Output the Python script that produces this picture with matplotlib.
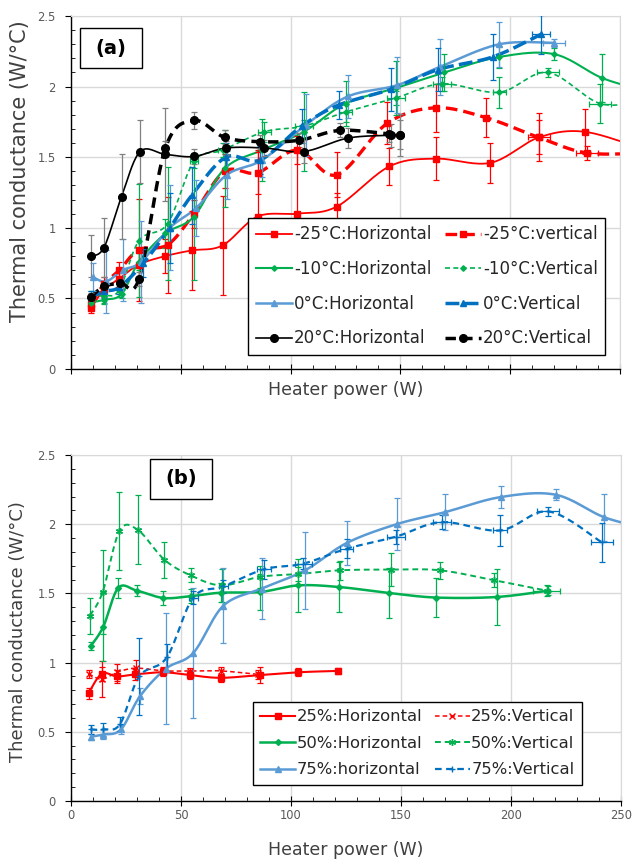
import numpy as np
import matplotlib
matplotlib.use("Agg")
import matplotlib.pyplot as plt
from matplotlib.lines import Line2D
from matplotlib.patches import Rectangle
from matplotlib.ticker import MultipleLocator, FuncFormatter

# ---- panel (a): temperature series ----
a_m25h_x = [9, 15, 22, 31, 43, 55, 69, 85, 103, 121, 145, 166, 191, 213, 234, 262]
a_m25h_y = [0.43, 0.56, 0.64, 0.74, 0.80, 0.84, 0.875, 1.08, 1.10, 1.15, 1.435, 1.49, 1.46, 1.64, 1.68, 1.55]
a_m25h_e = [0.03, 0.05, 0.06, 0.10, 0.12, 0.28, 0.35, 0.47, 0.45, 0.10, 0.13, 0.15, 0.14, 0.17, 0.16, 0.0]

a_m25v_x = [9, 15, 22, 31, 44, 56, 70, 85, 103, 121, 144, 166, 189, 213, 235, 262]
a_m25v_y = [0.46, 0.60, 0.70, 0.845, 0.88, 1.10, 1.40, 1.39, 1.55, 1.375, 1.74, 1.85, 1.78, 1.64, 1.53, 1.53]
a_m25v_e = [0.04, 0.05, 0.06, 0.36, 0.34, 0.10, 0.12, 0.15, 0.10, 0.16, 0.15, 0.17, 0.14, 0.12, 0.05, 0.0]
a_m25v_xe = [0, 0, 0, 0, 0, 0, 0, 0, 0, 0, 0, 0, 0, 5, 5, 0]

a_m10h_x = [9, 15, 23, 31, 43, 56, 70, 87, 106, 125, 148, 170, 195, 220, 242, 262]
a_m10h_y = [0.47, 0.49, 0.53, 0.76, 0.96, 1.08, 1.42, 1.55, 1.68, 1.88, 1.99, 2.10, 2.21, 2.23, 2.06, 1.97]
a_m10h_e = [0.03, 0.03, 0.03, 0.06, 0.10, 0.45, 0.27, 0.22, 0.28, 0.16, 0.19, 0.13, 0.08, 0.04, 0.17, 0.0]

a_m10v_x = [9, 15, 22, 31, 44, 56, 69, 88, 106, 125, 148, 169, 195, 217, 241, 262]
a_m10v_y = [0.52, 0.52, 0.56, 0.91, 1.03, 1.47, 1.55, 1.68, 1.72, 1.82, 1.92, 2.02, 1.96, 2.10, 1.88, 1.90]
a_m10v_e = [0.03, 0.05, 0.05, 0.40, 0.40, 0.05, 0.05, 0.07, 0.04, 0.07, 0.05, 0.05, 0.11, 0.03, 0.14, 0.0]
a_m10v_xe = [0, 0, 0, 0, 0, 2, 2, 3, 4, 3, 4, 4, 3, 5, 5, 0]

a_0h_x = [10, 16, 23.5, 32, 45, 57, 71, 87, 107, 126, 148.5, 168, 195, 220]
a_0h_y = [0.65, 0.62, 0.70, 0.76, 1.00, 1.14, 1.376, 1.48, 1.73, 1.93, 2.01, 2.14, 2.30, 2.31]
a_0h_e = [0.10, 0.22, 0.22, 0.29, 0.30, 0.20, 0.17, 0.12, 0.22, 0.15, 0.20, 0.20, 0.16, 0.03]
a_0h_xe = [0, 0, 0, 0, 0, 0, 0, 0, 0, 0, 0, 0, 0, 5]

a_0v_x = [9, 15, 22, 33, 45, 55, 70.5, 86, 105, 122, 145.5, 167, 192, 214]
a_0v_y = [0.51, 0.55, 0.58, 0.75, 1.00, 1.23, 1.50, 1.48, 1.72, 1.87, 1.98, 2.12, 2.21, 2.37]
a_0v_e = [0.04, 0.05, 0.05, 0.10, 0.25, 0.20, 0.10, 0.10, 0.12, 0.10, 0.15, 0.15, 0.16, 0.14]
a_0v_xe = [0, 0, 0, 0, 0, 0, 0, 0, 0, 0, 0, 0, 0, 4]

a_20h_x = [9, 15, 23, 31.5, 43, 56, 70.5, 88, 106, 126, 145.5, 150]
a_20h_y = [0.80, 0.86, 1.22, 1.54, 1.52, 1.505, 1.565, 1.565, 1.54, 1.635, 1.655, 1.655]
a_20h_e = [0.15, 0.21, 0.30, 0.22, 0.33, 0.05, 0.05, 0.06, 0.08, 0.07, 0.08, 0.15]

a_20v_x = [9, 15, 22.5, 31, 43, 56, 70, 86, 104, 122.5, 145, 150]
a_20v_y = [0.51, 0.585, 0.61, 0.64, 1.565, 1.76, 1.64, 1.61, 1.62, 1.69, 1.665, 1.66]
a_20v_e = [0.03, 0.04, 0.04, 0.05, 0.05, 0.06, 0.05, 0.05, 0.05, 0.05, 0.06, 0.10]

# ---- panel (b): fill ratio series ----
b_25h_x = [8, 14, 21, 29, 42, 54, 68, 86, 103, 121.5]
b_25h_y = [0.78, 0.92, 0.90, 0.915, 0.93, 0.91, 0.89, 0.91, 0.93, 0.94]
b_25h_e = [0.04, 0.05, 0.05, 0.04, 0.03, 0.03, 0.03, 0.06, 0.03, 0.02]

b_25v_x = [8, 14, 21, 29.5, 42, 54, 68, 85]
b_25v_y = [0.92, 0.88, 0.93, 0.96, 0.94, 0.94, 0.94, 0.915]
b_25v_e = [0.03, 0.13, 0.06, 0.06, 0.03, 0.02, 0.03, 0.03]

b_50h_x = [9, 14.7, 21.5, 30, 42, 54.4, 68, 86, 103.3, 122, 144.7, 166, 193.5, 217]
b_50h_y = [1.12, 1.26, 1.54, 1.52, 1.467, 1.48, 1.505, 1.51, 1.558, 1.546, 1.503, 1.47, 1.474, 1.52]
b_50h_e = [0.03, 0.25, 0.07, 0.04, 0.05, 0.05, 0.07, 0.13, 0.19, 0.18, 0.18, 0.14, 0.20, 0.03]

b_50v_x = [8.6, 14.4, 22, 30.3, 42.4, 54.4, 68.5, 86, 103.3, 122.3, 145.3, 167.7, 192.3, 216.2]
b_50v_y = [1.34, 1.51, 1.95, 1.96, 1.744, 1.63, 1.558, 1.62, 1.64, 1.667, 1.672, 1.667, 1.595, 1.52]
b_50v_e = [0.13, 0.30, 0.28, 0.25, 0.13, 0.05, 0.12, 0.08, 0.05, 0.07, 0.12, 0.06, 0.05, 0.04]
b_50v_xe = [0, 0, 0, 0, 0, 0, 0, 0, 0, 0, 0, 0, 0, 6]

b_75h_x = [9.1, 14.7, 22.7, 31.4, 43.2, 55.6, 69.2, 86.7, 106.4, 125.3, 148, 170, 195.3, 220.3, 242.4, 262]
b_75h_y = [0.464, 0.48, 0.517, 0.758, 0.957, 1.07, 1.41, 1.535, 1.667, 1.864, 2.0, 2.087, 2.196, 2.213, 2.05, 1.97]
b_75h_e = [0.02, 0.03, 0.03, 0.06, 0.40, 0.47, 0.27, 0.22, 0.28, 0.16, 0.19, 0.13, 0.08, 0.04, 0.17, 0.0]

b_75v_x = [8.9, 14.7, 22.3, 31, 43.5, 55.6, 69.2, 87.7, 105.6, 125.3, 147.7, 168.5, 195, 217, 241.2]
b_75v_y = [0.517, 0.517, 0.556, 0.90, 1.037, 1.47, 1.55, 1.674, 1.715, 1.823, 1.91, 2.015, 1.955, 2.092, 1.87]
b_75v_e = [0.03, 0.05, 0.05, 0.28, 0.10, 0.05, 0.05, 0.07, 0.04, 0.07, 0.05, 0.05, 0.11, 0.03, 0.14]
b_75v_xe = [0, 0, 0, 0, 0, 2, 2, 3, 4, 3, 4, 4, 3, 5, 5]

RED = "#FF0000"
GREEN = "#00B050"
LBLUE = "#5B9BD5"
BLUE = "#0070C0"
BLACK = "#000000"
GREY = "#808080"


def smooth(x, y, n=20):
    # Excel-style smoothed line (cubic bezier through the points)
    P = np.column_stack([np.asarray(x, float), np.asarray(y, float)])
    Pp = np.vstack([P[0], P, P[-1]])
    t = np.linspace(0, 1, n)[1:, None]
    out = [P[0]]
    for i in range(1, len(Pp) - 2):
        p0, p1, p2, p3 = Pp[i - 1], Pp[i], Pp[i + 1], Pp[i + 2]
        c1 = p1 + (p2 - p0) / 6
        c2 = p2 - (p3 - p1) / 6
        seg = (1 - t) ** 3 * p1 + 3 * (1 - t) ** 2 * t * c1 + 3 * (1 - t) * t ** 2 * c2 + t ** 3 * p2
        out.extend(seg)
    out = np.array(out)
    return out[:, 0], out[:, 1]


def draw(ax, x, y, e, color, lw, marker, ms, dashes=None, xe=None, ecolor=None, label=""):
    sx, sy = smooth(x, y)
    line, = ax.plot(sx, sy, color=color, lw=lw, solid_capstyle="butt")
    if dashes:
        line.set_dashes(dashes)
    ax.errorbar(x, y, yerr=e, xerr=xe, ls="none", marker=marker, ms=ms, color=color,
                mec=color, mfc=color, ecolor=ecolor or color,
                elinewidth=0.9, capsize=2.5, capthick=0.9, zorder=3)
    h = Line2D([], [], color=color, lw=lw, marker=marker, ms=ms, mec=color, mfc=color, label=label)
    if dashes:
        h.set_dashes(dashes)
    return h


def style(ax, ylabel_size, xticklabels=True):
    ax.set_xlim(0, 250)
    ax.set_ylim(0, 2.5)
    ax.xaxis.set_major_locator(MultipleLocator(50))
    ax.xaxis.set_minor_locator(MultipleLocator(10))
    ax.yaxis.set_major_locator(MultipleLocator(0.5))
    ax.yaxis.set_minor_locator(MultipleLocator(0.1))
    ax.yaxis.set_major_formatter(FuncFormatter(lambda v, p: "%g" % v))
    ax.grid(True, which="major", color="#D9D9D9", lw=1)
    ax.set_axisbelow(True)
    for s in ["top", "right"]:
        ax.spines[s].set_color("#D9D9D9")
    for s in ["left", "bottom"]:
        ax.spines[s].set_color(BLACK)
        ax.spines[s].set_linewidth(1)
    ax.tick_params(axis="y", which="major", direction="out", length=4, pad=7,
                   labelsize=8.3, labelcolor="#595959")
    ax.tick_params(axis="x", which="major", direction="inout", length=7, pad=2,
                   labelsize=8.3, labelcolor="#595959", labelbottom=xticklabels)
    ax.tick_params(which="minor", direction="in", length=3)
    ax.set_ylabel("Thermal conductance (W/°C)", fontsize=ylabel_size, color="#404040")
    ax.set_xlabel("Heater power (W)", fontsize=12.5, color="#404040")


fig = plt.figure(figsize=(6.34, 8.61), dpi=100)
ax1 = fig.add_axes([71 / 634, 492 / 861, 549 / 634, 353 / 861])
ax2 = fig.add_axes([71 / 634, 60 / 861, 550 / 634, 346 / 861])

# panel (a)
h = {}
h["m25h"] = draw(ax1, a_m25h_x, a_m25h_y, a_m25h_e, RED, 1.3, "s", 5, label="-25°C:Horizontal")
h["m25v"] = draw(ax1, a_m25v_x, a_m25v_y, a_m25v_e, RED, 2.4, "s", 5, dashes=(3.5, 1.8), xe=a_m25v_xe, label="-25°C:vertical")
h["m10h"] = draw(ax1, a_m10h_x, a_m10h_y, a_m10h_e, GREEN, 1.5, "D", 2.8, label="-10°C:Horizontal")
h["m10v"] = draw(ax1, a_m10v_x, a_m10v_y, a_m10v_e, GREEN, 1.2, "D", 2.8, dashes=(3, 2), xe=a_m10v_xe, label="-10°C:Vertical")
h["0h"] = draw(ax1, a_0h_x, a_0h_y, a_0h_e, LBLUE, 1.8, "^", 5, xe=a_0h_xe, label="0°C:Horizontal")
h["0v"] = draw(ax1, a_0v_x, a_0v_y, a_0v_e, BLUE, 2.5, "^", 4, dashes=(4, 1.5), xe=a_0v_xe, label="0°C:Vertical")
h["20h"] = draw(ax1, a_20h_x, a_20h_y, a_20h_e, BLACK, 1.2, "o", 5.5, ecolor=GREY, label="20°C:Horizontal")
h["20v"] = draw(ax1, a_20v_x, a_20v_y, a_20v_e, BLACK, 2.5, "o", 5.5, dashes=(3, 1.8), ecolor=GREY, label="20°C:Vertical")
style(ax1, 15, xticklabels=False)
ax1.xaxis.set_label_coords(0.5, -0.035)
ax1.yaxis.set_label_coords(-0.075, 0.56)
order = ["m25h", "m10h", "0h", "20h", "m25v", "m10v", "0v", "20v"]
leg = ax1.legend(handles=[h[k] for k in order], ncol=2, loc="upper left",
                 bbox_to_anchor=(248 / 634, 1 - 218 / 861), bbox_transform=fig.transFigure,
                 borderaxespad=0, fontsize=12, frameon=True, fancybox=False,
                 edgecolor=BLACK, framealpha=1, borderpad=0.45, labelspacing=1.0,
                 handlelength=2.2, handletextpad=0.1, columnspacing=0.8)
leg.get_frame().set_linewidth(1)
for t in leg.get_texts():
    t.set_color("#262626")
ax1.add_patch(Rectangle((0.0164, 0.853), 0.113, 0.113, transform=ax1.transAxes,
                        fill=True, fc="white", ec=BLACK, lw=1, zorder=5))
ax1.text(0.073, 0.909, "(a)", transform=ax1.transAxes, ha="center", va="center",
         fontsize=14, fontweight="bold", zorder=6)

# panel (b)
g = {}
g["25h"] = draw(ax2, b_25h_x, b_25h_y, b_25h_e, RED, 1.5, "s", 5, label="25%:Horizontal")
g["25v"] = draw(ax2, b_25v_x, b_25v_y, b_25v_e, RED, 1.1, "x", 4, dashes=(3, 2), label="25%:Vertical")
g["50h"] = draw(ax2, b_50h_x, b_50h_y, b_50h_e, GREEN, 1.8, "D", 3, label="50%:Horizontal")
g["50v"] = draw(ax2, b_50v_x, b_50v_y, b_50v_e, GREEN, 1.4, (6, 2, 0), 5, dashes=(3, 2), xe=b_50v_xe, label="50%:Vertical")
g["75h"] = draw(ax2, b_75h_x, b_75h_y, b_75h_e, LBLUE, 1.8, "^", 5, label="75%:horizontal")
g["75v"] = draw(ax2, b_75v_x, b_75v_y, b_75v_e, BLUE, 1.6, "+", 5, dashes=(3, 2), xe=b_75v_xe, label="75%:Vertical")
style(ax2, 13)
ax2.xaxis.set_label_coords(0.5, -0.115)
ax2.yaxis.set_label_coords(-0.08, 0.49)
order = ["25h", "50h", "75h", "25v", "50v", "75v"]
leg2 = ax2.legend(handles=[g[k] for k in order], ncol=2, loc="upper left",
                  bbox_to_anchor=(253 / 634, 1 - 702 / 861), bbox_transform=fig.transFigure,
                  borderaxespad=0, fontsize=11.8, frameon=True, fancybox=False,
                  edgecolor=BLACK, framealpha=1, borderpad=0.45, labelspacing=0.7,
                  handlelength=2.1, handletextpad=0.1, columnspacing=0.8)
leg2.get_frame().set_linewidth(1)
for t in leg2.get_texts():
    t.set_color("#262626")
ax2.add_patch(Rectangle((0.1436, 0.873), 0.113, 0.115, transform=ax2.transAxes,
                        fill=True, fc="white", ec=BLACK, lw=1, zorder=5))
ax2.text(0.2, 0.931, "(b)", transform=ax2.transAxes, ha="center", va="center",
         fontsize=14, fontweight="bold", zorder=6)

fig.savefig("out.png", dpi=100)
